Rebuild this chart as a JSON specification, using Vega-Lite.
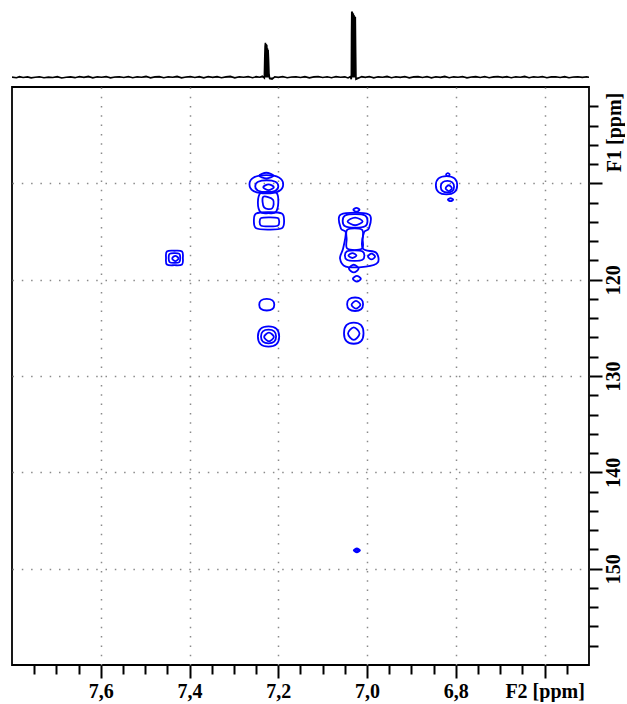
{
  "$schema": "https://vega.github.io/schema/vega-lite/v6.json",
  "background": "white",
  "padding": {"left": 11, "top": 8, "right": 0, "bottom": 0},
  "spacing": 5,
  "config": {"font": "Liberation Serif"},
  "datasets": {
    "spectrum": [
      {"ppm":7.80,"v":0.6},{"ppm":7.79,"v":-0.4},{"ppm":7.783,"v":1.2},{"ppm":7.775,"v":0.1},{"ppm":7.765,"v":0.9},{"ppm":7.757,"v":-0.5},{"ppm":7.748,"v":0.4},{"ppm":7.738,"v":1.1},{"ppm":7.728,"v":-0.3},{"ppm":7.718,"v":0.6},{"ppm":7.708,"v":0.0},{"ppm":7.698,"v":1.3},{"ppm":7.688,"v":-0.6},{"ppm":7.678,"v":0.5},{"ppm":7.668,"v":0.9},{"ppm":7.658,"v":-0.2},{"ppm":7.648,"v":1.4},{"ppm":7.638,"v":0.2},{"ppm":7.628,"v":1.6},{"ppm":7.618,"v":-0.4},{"ppm":7.608,"v":1.0},{"ppm":7.598,"v":0.3},{"ppm":7.588,"v":1.5},{"ppm":7.578,"v":-0.5},{"ppm":7.568,"v":0.8},{"ppm":7.558,"v":1.2},{"ppm":7.548,"v":0.0},{"ppm":7.538,"v":1.5},{"ppm":7.528,"v":-0.3},{"ppm":7.518,"v":1.1},{"ppm":7.508,"v":0.4},{"ppm":7.498,"v":1.7},{"ppm":7.488,"v":-0.5},{"ppm":7.478,"v":0.9},{"ppm":7.468,"v":1.3},{"ppm":7.458,"v":-0.2},{"ppm":7.448,"v":1.0},{"ppm":7.438,"v":0.3},{"ppm":7.428,"v":1.6},{"ppm":7.418,"v":-0.4},{"ppm":7.408,"v":0.8},{"ppm":7.398,"v":1.4},{"ppm":7.388,"v":0.0},{"ppm":7.378,"v":1.2},{"ppm":7.368,"v":-0.5},{"ppm":7.358,"v":1.5},{"ppm":7.348,"v":0.2},{"ppm":7.338,"v":1.3},{"ppm":7.328,"v":-0.3},{"ppm":7.318,"v":0.9},{"ppm":7.308,"v":1.6},{"ppm":7.298,"v":-0.4},{"ppm":7.288,"v":1.0},{"ppm":7.278,"v":0.3},{"ppm":7.268,"v":1.5},{"ppm":7.258,"v":-0.2},{"ppm":7.250,"v":1.2},{"ppm":7.242,"v":0.4},{"ppm":7.236,"v":1.8},{"ppm":7.2315,"v":-0.8},{"ppm":7.2305,"v":30},{"ppm":7.2298,"v":45},{"ppm":7.229,"v":50},{"ppm":7.2283,"v":38},{"ppm":7.2276,"v":48},{"ppm":7.2268,"v":44},{"ppm":7.226,"v":47},{"ppm":7.2252,"v":36},{"ppm":7.2245,"v":42},{"ppm":7.2237,"v":30},{"ppm":7.223,"v":40},{"ppm":7.222,"v":26},{"ppm":7.221,"v":6},{"ppm":7.2195,"v":-1.5},{"ppm":7.214,"v":-2.2},{"ppm":7.208,"v":1.0},{"ppm":7.200,"v":0.2},{"ppm":7.190,"v":1.4},{"ppm":7.180,"v":-0.4},{"ppm":7.170,"v":0.8},{"ppm":7.160,"v":1.2},{"ppm":7.150,"v":0.0},{"ppm":7.140,"v":1.3},{"ppm":7.130,"v":-0.5},{"ppm":7.120,"v":0.9},{"ppm":7.110,"v":1.5},{"ppm":7.100,"v":0.1},{"ppm":7.090,"v":1.1},{"ppm":7.080,"v":-0.3},{"ppm":7.070,"v":1.4},{"ppm":7.060,"v":0.4},{"ppm":7.050,"v":1.0},{"ppm":7.043,"v":-0.6},{"ppm":7.038,"v":1.2},{"ppm":7.0355,"v":-2.5},{"ppm":7.0350,"v":60},{"ppm":7.0345,"v":95},{"ppm":7.0340,"v":82},{"ppm":7.0335,"v":95},{"ppm":7.0330,"v":85},{"ppm":7.0325,"v":93},{"ppm":7.0318,"v":80},{"ppm":7.0310,"v":92},{"ppm":7.0303,"v":78},{"ppm":7.0295,"v":90},{"ppm":7.0288,"v":75},{"ppm":7.0280,"v":88},{"ppm":7.0273,"v":70},{"ppm":7.0265,"v":87},{"ppm":7.0258,"v":40},{"ppm":7.0250,"v":-2.5},{"ppm":7.020,"v":-1.0},{"ppm":7.012,"v":1.3},{"ppm":7.004,"v":0.2},{"ppm":6.995,"v":1.5},{"ppm":6.985,"v":-0.4},{"ppm":6.975,"v":1.0},{"ppm":6.965,"v":0.5},{"ppm":6.955,"v":1.6},{"ppm":6.945,"v":-0.3},{"ppm":6.935,"v":1.2},{"ppm":6.925,"v":0.2},{"ppm":6.915,"v":1.4},{"ppm":6.905,"v":-0.5},{"ppm":6.895,"v":0.9},{"ppm":6.885,"v":1.3},{"ppm":6.875,"v":0.0},{"ppm":6.865,"v":1.5},{"ppm":6.855,"v":-0.4},{"ppm":6.845,"v":1.1},{"ppm":6.835,"v":0.3},{"ppm":6.825,"v":1.6},{"ppm":6.815,"v":-0.2},{"ppm":6.805,"v":1.0},{"ppm":6.795,"v":0.4},{"ppm":6.785,"v":1.5},{"ppm":6.775,"v":-0.5},{"ppm":6.765,"v":0.8},{"ppm":6.755,"v":1.3},{"ppm":6.745,"v":0.1},{"ppm":6.735,"v":1.4},{"ppm":6.725,"v":-0.3},{"ppm":6.715,"v":0.9},{"ppm":6.705,"v":1.5},{"ppm":6.695,"v":0.2},{"ppm":6.685,"v":1.2},{"ppm":6.675,"v":-0.4},{"ppm":6.665,"v":1.0},{"ppm":6.655,"v":0.3},{"ppm":6.645,"v":1.6},{"ppm":6.635,"v":-0.2},{"ppm":6.625,"v":1.1},{"ppm":6.615,"v":0.5},{"ppm":6.605,"v":1.4},{"ppm":6.595,"v":-0.4},{"ppm":6.585,"v":0.9},{"ppm":6.575,"v":1.2},{"ppm":6.565,"v":0.0},{"ppm":6.555,"v":1.3},{"ppm":6.545,"v":-0.3},{"ppm":6.535,"v":0.8},{"ppm":6.525,"v":1.2},{"ppm":6.515,"v":0.2},{"ppm":6.505,"v":1.0},{"ppm":6.50,"v":0.3}
    ],
    "contours": [
      {"r":"A1","i":0,"x":7.243,"y":109.2},{"r":"A1","i":1,"x":7.227,"y":109.5},{"r":"A1","i":2,"x":7.211,"y":109.2},{"r":"A1","i":3,"x":7.227,"y":108.9},
      {"r":"A2","i":0,"x":7.265,"y":110.1},{"r":"A2","i":1,"x":7.2555,"y":110.81},{"r":"A2","i":2,"x":7.227,"y":111.05},{"r":"A2","i":3,"x":7.1985,"y":110.81},{"r":"A2","i":4,"x":7.189,"y":110.1},{"r":"A2","i":5,"x":7.1985,"y":109.39},{"r":"A2","i":6,"x":7.227,"y":109.15},{"r":"A2","i":7,"x":7.2555,"y":109.39},
      {"r":"A3","i":0,"x":7.252,"y":110.3},{"r":"A3","i":1,"x":7.2455,"y":110.765},{"r":"A3","i":2,"x":7.226,"y":110.92},{"r":"A3","i":3,"x":7.2065,"y":110.765},{"r":"A3","i":4,"x":7.2,"y":110.3},{"r":"A3","i":5,"x":7.2065,"y":109.835},{"r":"A3","i":6,"x":7.226,"y":109.68},{"r":"A3","i":7,"x":7.2455,"y":109.835},
      {"r":"A4","i":0,"x":7.234,"y":110.4},{"r":"A4","i":1,"x":7.222,"y":110.7},{"r":"A4","i":2,"x":7.21,"y":110.4},{"r":"A4","i":3,"x":7.222,"y":110.1},
      {"r":"A5","i":0,"x":7.240,"y":111.0},{"r":"A5","i":1,"x":7.222,"y":110.9},{"r":"A5","i":2,"x":7.204,"y":111.0},{"r":"A5","i":3,"x":7.200,"y":112.0},{"r":"A5","i":4,"x":7.206,"y":113.0},{"r":"A5","i":5,"x":7.222,"y":113.1},{"r":"A5","i":6,"x":7.240,"y":113.0},{"r":"A5","i":7,"x":7.246,"y":112.0},
      {"r":"A6","i":0,"x":7.234,"y":111.4},{"r":"A6","i":1,"x":7.212,"y":111.7},{"r":"A6","i":2,"x":7.214,"y":112.6},{"r":"A6","i":3,"x":7.232,"y":112.5},
      {"r":"A7","i":0,"x":7.255,"y":113.9},{"r":"A7","i":1,"x":7.2499,"y":114.665},{"r":"A7","i":2,"x":7.221,"y":114.8},{"r":"A7","i":3,"x":7.1921,"y":114.665},{"r":"A7","i":4,"x":7.187,"y":113.9},{"r":"A7","i":5,"x":7.1921,"y":113.135},{"r":"A7","i":6,"x":7.221,"y":113.0},{"r":"A7","i":7,"x":7.2499,"y":113.135},
      {"r":"A8","i":0,"x":7.242,"y":114.0},{"r":"A8","i":1,"x":7.2387,"y":114.4},{"r":"A8","i":2,"x":7.220,"y":114.47},{"r":"A8","i":3,"x":7.2013,"y":114.4},{"r":"A8","i":4,"x":7.198,"y":114.0},{"r":"A8","i":5,"x":7.2013,"y":113.6},{"r":"A8","i":6,"x":7.220,"y":113.53},{"r":"A8","i":7,"x":7.2387,"y":113.6},
      {"r":"B1","i":0,"x":7.031,"y":112.75},{"r":"B1","i":1,"x":7.024,"y":112.95},{"r":"B1","i":2,"x":7.017,"y":112.75},{"r":"B1","i":3,"x":7.024,"y":112.55},
      {"r":"B2","i":0,"x":7.059,"y":113.23},{"r":"B2","i":1,"x":6.996,"y":113.23},{"r":"B2","i":2,"x":6.996,"y":114.69},{"r":"B2","i":3,"x":7.007,"y":115.1},{"r":"B2","i":4,"x":7.0095,"y":116.77},{"r":"B2","i":5,"x":6.980,"y":117.18},{"r":"B2","i":6,"x":6.976,"y":118.22},{"r":"B2","i":7,"x":7.003,"y":118.64},{"r":"B2","i":8,"x":7.048,"y":118.64},{"r":"B2","i":9,"x":7.061,"y":117.8},{"r":"B2","i":10,"x":7.054,"y":116.77},{"r":"B2","i":11,"x":7.048,"y":115.1},{"r":"B2","i":12,"x":7.059,"y":114.69},
      {"r":"B3","i":0,"x":7.055,"y":113.9},{"r":"B3","i":1,"x":7.0494,"y":114.46},{"r":"B3","i":2,"x":7.027,"y":114.6},{"r":"B3","i":3,"x":7.0046,"y":114.46},{"r":"B3","i":4,"x":6.999,"y":113.9},{"r":"B3","i":5,"x":7.0046,"y":113.34},{"r":"B3","i":6,"x":7.027,"y":113.2},{"r":"B3","i":7,"x":7.0494,"y":113.34},
      {"r":"B4","i":0,"x":7.044,"y":113.95},{"r":"B4","i":1,"x":7.027,"y":114.35},{"r":"B4","i":2,"x":7.010,"y":113.95},{"r":"B4","i":3,"x":7.027,"y":113.55},
      {"r":"B5","i":0,"x":7.044,"y":114.8},{"r":"B5","i":1,"x":7.012,"y":114.8},{"r":"B5","i":2,"x":7.010,"y":115.8},{"r":"B5","i":3,"x":7.012,"y":116.8},{"r":"B5","i":4,"x":7.044,"y":116.8},{"r":"B5","i":5,"x":7.046,"y":115.8},
      {"r":"B6","i":0,"x":7.05,"y":117.5},{"r":"B6","i":1,"x":7.0456,"y":117.94},{"r":"B6","i":2,"x":7.028,"y":118.05},{"r":"B6","i":3,"x":7.0104,"y":117.94},{"r":"B6","i":4,"x":7.006,"y":117.5},{"r":"B6","i":5,"x":7.0104,"y":117.06},{"r":"B6","i":6,"x":7.028,"y":116.95},{"r":"B6","i":7,"x":7.0456,"y":117.06},
      {"r":"B7","i":0,"x":7.042,"y":117.5},{"r":"B7","i":1,"x":7.033,"y":117.75},{"r":"B7","i":2,"x":7.024,"y":117.5},{"r":"B7","i":3,"x":7.033,"y":117.25},
      {"r":"B8","i":0,"x":6.998,"y":117.6},{"r":"B8","i":1,"x":6.99,"y":117.9},{"r":"B8","i":2,"x":6.982,"y":117.6},{"r":"B8","i":3,"x":6.99,"y":117.3},
      {"r":"B9","i":0,"x":7.041,"y":118.85},{"r":"B9","i":1,"x":7.03,"y":119.25},{"r":"B9","i":2,"x":7.019,"y":118.85},{"r":"B9","i":3,"x":7.03,"y":118.45},
      {"r":"B10","i":0,"x":7.032,"y":119.9},{"r":"B10","i":1,"x":7.023,"y":120.2},{"r":"B10","i":2,"x":7.014,"y":119.9},{"r":"B10","i":3,"x":7.023,"y":119.6},
      {"r":"C1","i":0,"x":6.845,"y":110.2},{"r":"C1","i":1,"x":6.839,"y":110.9125},{"r":"C1","i":2,"x":6.821,"y":111.15},{"r":"C1","i":3,"x":6.803,"y":110.9125},{"r":"C1","i":4,"x":6.797,"y":110.2},{"r":"C1","i":5,"x":6.803,"y":109.4875},{"r":"C1","i":6,"x":6.821,"y":109.25},{"r":"C1","i":7,"x":6.839,"y":109.4875},
      {"r":"C2","i":0,"x":6.834,"y":110.35},{"r":"C2","i":1,"x":6.83,"y":110.8},{"r":"C2","i":2,"x":6.819,"y":110.95},{"r":"C2","i":3,"x":6.808,"y":110.8},{"r":"C2","i":4,"x":6.804,"y":110.35},{"r":"C2","i":5,"x":6.808,"y":109.9},{"r":"C2","i":6,"x":6.819,"y":109.75},{"r":"C2","i":7,"x":6.83,"y":109.9},
      {"r":"C3","i":0,"x":6.823,"y":110.5},{"r":"C3","i":1,"x":6.816,"y":110.8},{"r":"C3","i":2,"x":6.809,"y":110.5},{"r":"C3","i":3,"x":6.816,"y":110.2},
      {"r":"C4","i":0,"x":6.818,"y":111.7},{"r":"C4","i":1,"x":6.812,"y":111.85},{"r":"C4","i":2,"x":6.806,"y":111.7},{"r":"C4","i":3,"x":6.812,"y":111.55},
      {"r":"C5","i":0,"x":6.822,"y":109.1},{"r":"C5","i":1,"x":6.818,"y":109.25},{"r":"C5","i":2,"x":6.814,"y":109.1},{"r":"C5","i":3,"x":6.818,"y":108.95},
      {"r":"D1","i":0,"x":7.453,"y":117.75},{"r":"D1","i":1,"x":7.4511,"y":118.425},{"r":"D1","i":2,"x":7.434,"y":118.5},{"r":"D1","i":3,"x":7.4169,"y":118.425},{"r":"D1","i":4,"x":7.415,"y":117.75},{"r":"D1","i":5,"x":7.4169,"y":117.075},{"r":"D1","i":6,"x":7.434,"y":117.0},{"r":"D1","i":7,"x":7.4511,"y":117.075},
      {"r":"D2","i":0,"x":7.447,"y":117.75},{"r":"D2","i":1,"x":7.445,"y":118.175},{"r":"D2","i":2,"x":7.434,"y":118.25},{"r":"D2","i":3,"x":7.423,"y":118.175},{"r":"D2","i":4,"x":7.421,"y":117.75},{"r":"D2","i":5,"x":7.423,"y":117.325},{"r":"D2","i":6,"x":7.434,"y":117.25},{"r":"D2","i":7,"x":7.445,"y":117.325},
      {"r":"D3","i":0,"x":7.439,"y":117.8},{"r":"D3","i":1,"x":7.432,"y":118.08},{"r":"D3","i":2,"x":7.425,"y":117.8},{"r":"D3","i":3,"x":7.432,"y":117.52},
      {"r":"E1","i":0,"x":7.243,"y":122.6},{"r":"E1","i":1,"x":7.2388,"y":123.05},{"r":"E1","i":2,"x":7.226,"y":123.2},{"r":"E1","i":3,"x":7.2132,"y":123.05},{"r":"E1","i":4,"x":7.209,"y":122.6},{"r":"E1","i":5,"x":7.2132,"y":122.15},{"r":"E1","i":6,"x":7.226,"y":122.0},{"r":"E1","i":7,"x":7.2388,"y":122.15},
      {"r":"E2","i":0,"x":7.246,"y":125.9},{"r":"E2","i":1,"x":7.24,"y":126.69},{"r":"E2","i":2,"x":7.222,"y":126.95},{"r":"E2","i":3,"x":7.204,"y":126.69},{"r":"E2","i":4,"x":7.198,"y":125.9},{"r":"E2","i":5,"x":7.204,"y":125.11},{"r":"E2","i":6,"x":7.222,"y":124.85},{"r":"E2","i":7,"x":7.24,"y":125.11},
      {"r":"E3","i":0,"x":7.239,"y":125.9},{"r":"E3","i":1,"x":7.2348,"y":126.44},{"r":"E3","i":2,"x":7.222,"y":126.62},{"r":"E3","i":3,"x":7.2092,"y":126.44},{"r":"E3","i":4,"x":7.205,"y":125.9},{"r":"E3","i":5,"x":7.2092,"y":125.36},{"r":"E3","i":6,"x":7.222,"y":125.18},{"r":"E3","i":7,"x":7.2348,"y":125.36},
      {"r":"E4","i":0,"x":7.232,"y":125.95},{"r":"E4","i":1,"x":7.221,"y":126.4},{"r":"E4","i":2,"x":7.21,"y":125.95},{"r":"E4","i":3,"x":7.221,"y":125.5},
      {"r":"E5","i":0,"x":7.045,"y":122.55},{"r":"E5","i":1,"x":7.0405,"y":123.075},{"r":"E5","i":2,"x":7.027,"y":123.25},{"r":"E5","i":3,"x":7.0135,"y":123.075},{"r":"E5","i":4,"x":7.009,"y":122.55},{"r":"E5","i":5,"x":7.0135,"y":122.025},{"r":"E5","i":6,"x":7.027,"y":121.85},{"r":"E5","i":7,"x":7.0405,"y":122.025},
      {"r":"E6","i":0,"x":7.035,"y":122.6},{"r":"E6","i":1,"x":7.025,"y":123.0},{"r":"E6","i":2,"x":7.015,"y":122.6},{"r":"E6","i":3,"x":7.025,"y":122.2},
      {"r":"E7","i":0,"x":7.052,"y":125.55},{"r":"E7","i":1,"x":7.0465,"y":126.375},{"r":"E7","i":2,"x":7.03,"y":126.65},{"r":"E7","i":3,"x":7.0135,"y":126.375},{"r":"E7","i":4,"x":7.008,"y":125.55},{"r":"E7","i":5,"x":7.0135,"y":124.725},{"r":"E7","i":6,"x":7.03,"y":124.45},{"r":"E7","i":7,"x":7.0465,"y":124.725},
      {"r":"E8","i":0,"x":7.043,"y":125.6},{"r":"E8","i":1,"x":7.03,"y":126.25},{"r":"E8","i":2,"x":7.017,"y":125.6},{"r":"E8","i":3,"x":7.03,"y":124.95},
      {"r":"F1","i":0,"x":7.03,"y":148.1},{"r":"F1","i":1,"x":7.023,"y":148.3},{"r":"F1","i":2,"x":7.016,"y":148.1},{"r":"F1","i":3,"x":7.023,"y":147.9},
      {"r":"F2","i":0,"x":7.026,"y":148.1},{"r":"F2","i":1,"x":7.023,"y":148.2},{"r":"F2","i":2,"x":7.02,"y":148.1},{"r":"F2","i":3,"x":7.023,"y":148.0}
    ]
  },
  "vconcat": [
    {
      "width": 577,
      "height": 73,
      "view": {"stroke": null},
      "data": {"name": "spectrum"},
      "encoding": {
        "x": {"field": "ppm", "type": "quantitative", "sort": null,
              "scale": {"domain": [6.5, 7.8], "reverse": true, "nice": false, "zero": false}, "axis": null},
        "y": {"field": "v", "type": "quantitative",
              "scale": {"domain": [-5, 100], "nice": false, "zero": false}, "axis": null}
      },
      "layer": [
        {"mark": {"type": "area", "color": "black", "opacity": 1, "clip": true}},
        {"mark": {"type": "line", "color": "black", "strokeWidth": 1.6, "clip": true}}
      ]
    },
    {
      "width": 577,
      "height": 578,
      "view": {"stroke": "black", "strokeWidth": 1.8},
      "data": {"name": "contours"},
      "mark": {"type": "line", "color": "#0000ff", "strokeWidth": 1.8, "interpolate": "cardinal-closed", "clip": true},
      "encoding": {
        "x": {"field": "x", "type": "quantitative",
              "scale": {"domain": [6.5, 7.8], "reverse": true, "nice": false, "zero": false},
              "axis": {
                "title": null,
                "domain": false,
                "values": [7.75,7.7,7.65,7.6,7.55,7.5,7.45,7.4,7.35,7.3,7.25,7.2,7.15,7.1,7.05,7.0,6.95,6.9,6.85,6.8,6.75,6.7,6.65,6.6,6.55],
                "tickColor": "black",
                "tickWidth": 2,
                "tickSize": {"condition": {"test": "abs(datum.value*5 - round(datum.value*5)) < 0.01", "value": 13}, "value": 9},
                "grid": true,
                "gridColor": "#8a8a8a",
                "gridWidth": 1.5,
                "gridDash": [1.5, 7.8],
                "gridOpacity": {"condition": {"test": "abs(datum.value*5 - round(datum.value*5)) < 0.01", "value": 1}, "value": 0},
                "labelExpr": "abs(datum.value*5 - round(datum.value*5)) < 0.01 ? (abs(datum.value - 6.6) < 0.01 ? 'F2 [ppm]' : replace(format(datum.value, '.1f'), '.', ',')) : ''",
                "labelFont": "Liberation Serif",
                "labelFontWeight": "bold",
                "labelFontSize": 20,
                "labelColor": "black",
                "labelPadding": 3,
                "labelOverlap": false,
                "labelFlush": false,
                "labelBound": false
              }},
        "y": {"field": "y", "type": "quantitative",
              "scale": {"domain": [100, 160], "reverse": true, "nice": false, "zero": false},
              "axis": {
                "orient": "right",
                "domain": false,
                "values": [102,104,106,108,110,112,114,116,118,120,122,124,126,128,130,132,134,136,138,140,142,144,146,148,150,152,154,156,158],
                "tickColor": "black",
                "tickWidth": 2,
                "tickSize": {"condition": {"test": "datum.value % 10 == 0", "value": 13}, "value": 9},
                "grid": true,
                "gridColor": "#8a8a8a",
                "gridWidth": 1.5,
                "gridDash": [1.5, 7.8],
                "gridOpacity": {"condition": {"test": "datum.value % 10 == 0", "value": 1}, "value": 0},
                "labelExpr": "(datum.value % 10 == 0 && datum.value >= 120) ? datum.label : ''",
                "labelFont": "Liberation Serif",
                "labelFontWeight": "bold",
                "labelFontSize": 20,
                "labelColor": "black",
                "labelAngle": 270,
                "labelAlign": "center",
                "labelBaseline": "top",
                "labelPadding": 1,
                "labelOverlap": false,
                "labelFlush": false,
                "labelBound": false,
                "title": "F1 [ppm]",
                "titleFont": "Liberation Serif",
                "titleFontWeight": "bold",
                "titleFontSize": 20,
                "titleColor": "black",
                "titleAngle": 270,
                "titleAlign": "center",
                "titleBaseline": "top",
                "titleX": 15,
                "titleY": 45
              }},
        "detail": {"field": "r"},
        "order": {"field": "i", "type": "quantitative"}
      }
    }
  ]
}
